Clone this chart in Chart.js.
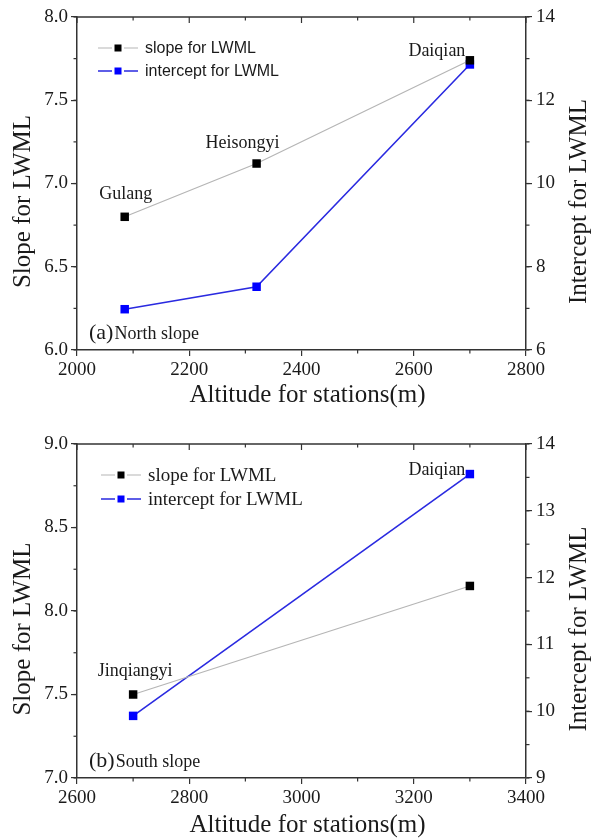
<!DOCTYPE html>
<html>
<head>
<meta charset="utf-8">
<script src="https://cdn.jsdelivr.net/npm/chart.js@4.4.0/dist/chart.umd.min.js"></script>
<style>
  html, body { margin: 0; padding: 0; background: #fff; }
  .panel { position: relative; width: 597px; height: 419px; }
</style>
</head>
<body>
<div class="panel"><canvas id="northChart" width="597" height="419"></canvas></div>
<div class="panel"><canvas id="southChart" width="597" height="419"></canvas></div>
<script>
// (a) North slope
const northAltitude = [2085, 2320, 2700];
const northSlope = [6.80, 7.12, 7.74];
const northIntercept = [6.98, 7.52, 12.86];
const northStations = ['Gulang', 'Heisongyi', 'Daiqian'];

// (b) South slope
const southAltitude = [2700, 3300];
const southSlope = [7.50, 8.15];
const southIntercept = [9.93, 13.55];
const southStations = ['Jinqiangyi', 'Daiqian'];

const seriesNames = ['slope for LWML', 'intercept for LWML'];

const SERIF = '"Liberation Serif", "Times New Roman", serif';
const SANS = '"Liberation Sans", Arial, sans-serif';
const INK = '#1a1a1a';
const AXIS = '#333';

function toPoints(xs, ys) {
    return xs.map((x, i) => ({ x: x, y: ys[i] }));
}

// extras drawn on top: frame, minor ticks, titles, legend, station labels
const extrasPlugin = {
    id: 'extras',
    afterDraw(chart, args, opts) {
        const ctx = chart.ctx;
        const a = chart.chartArea;
        const sx = chart.scales.x, sy = chart.scales.y, sy2 = chart.scales.y2;
        ctx.save();
        ctx.strokeStyle = AXIS;
        ctx.lineWidth = 1.5;
        // top frame line
        ctx.beginPath();
        ctx.moveTo(a.left, a.top);
        ctx.lineTo(a.right, a.top);
        ctx.stroke();

        ctx.lineWidth = 1.2;
        // x: minor outward ticks + top mirror ticks
        for (let v = sx.min; v <= sx.max + 1e-9; v += opts.xMinor) {
            const px = sx.getPixelForValue(v);
            const major = Math.abs(((v - sx.min) / opts.xMajor) - Math.round((v - sx.min) / opts.xMajor)) < 1e-6;
            ctx.beginPath();
            if (!major) {
                ctx.moveTo(px, a.bottom);
                ctx.lineTo(px, a.bottom + 3.5);
            }
            ctx.moveTo(px, a.top);
            ctx.lineTo(px, a.top + (major ? 6 : 3.5));
            ctx.stroke();
        }
        // left y minor ticks
        for (let v = sy.min; v <= sy.max + 1e-9; v += opts.yMinor) {
            const py = sy.getPixelForValue(v);
            ctx.beginPath();
            ctx.moveTo(a.left, py);
            ctx.lineTo(a.left - 3.5, py);
            ctx.stroke();
        }
        // right y minor ticks
        for (let v = sy2.min; v <= sy2.max + 1e-9; v += opts.y2Minor) {
            const py = sy2.getPixelForValue(v);
            ctx.beginPath();
            ctx.moveTo(a.right, py);
            ctx.lineTo(a.right + 3.5, py);
            ctx.stroke();
        }

        // axis titles
        ctx.fillStyle = INK;
        ctx.textAlign = 'center';
        ctx.textBaseline = 'middle';
        ctx.font = '25px ' + SERIF;
        ctx.fillText('Altitude for stations(m)', (a.left + a.right) / 2 + 6, a.bottom + opts.xTitleGap);
        ctx.font = '25px ' + SERIF;
        ctx.save();
        ctx.translate(23, (a.top + a.bottom) / 2 + 18);
        ctx.rotate(-Math.PI / 2);
        ctx.fillText('Slope for LWML', 0, 0);
        ctx.restore();
        ctx.save();
        ctx.translate(579, (a.top + a.bottom) / 2 + 18);
        ctx.rotate(-Math.PI / 2);
        ctx.fillText('Intercept for LWML', 0, 0);
        ctx.restore();

        // legend
        const lg = opts.legend;
        chart.data.datasets.forEach((ds, i) => {
            const y = a.top + lg.top + i * lg.gap;
            ctx.strokeStyle = ds.borderColor;
            ctx.lineWidth = ds.borderWidth;
            ctx.beginPath();
            ctx.moveTo(lg.left, y);
            ctx.lineTo(lg.left + 14, y);
            ctx.moveTo(lg.left + 26, y);
            ctx.lineTo(lg.left + 40, y);
            ctx.stroke();
            ctx.fillStyle = ds.pointBackgroundColor;
            ctx.fillRect(lg.left + 16.5, y - 3.5, 7, 7);
            ctx.fillStyle = INK;
            ctx.textAlign = 'left';
            ctx.font = lg.font;
            ctx.fillText(ds.label, lg.left + 47, y + 1);
        });

        // station labels
        ctx.font = '18px ' + SERIF;
        ctx.textAlign = 'center';
        opts.stations.forEach(s => {
            const el = chart.getDatasetMeta(s.ds).data[s.index];
            ctx.fillText(s.text, el.x + s.dx, el.y + s.dy);
        });

        // panel note
        ctx.textAlign = 'left';
        ctx.font = '22px ' + SERIF;
        ctx.fillText(opts.note[0], a.left + 12, a.bottom - 17);
        const w = ctx.measureText(opts.note[0]).width;
        ctx.font = '18px ' + SERIF;
        ctx.fillText(opts.note[1], a.left + 13 + w, a.bottom - 16);
        ctx.restore();
    }
};

function makeChart(id, cfg) {
    const ctx = document.getElementById(id).getContext('2d');
    const tickFont = { family: SERIF, size: 19 };
    return new Chart(ctx, {
        type: 'scatter',
        data: {
            datasets: [{
                label: seriesNames[0],
                data: toPoints(cfg.altitude, cfg.slope),
                yAxisID: 'y',
                showLine: true,
                borderColor: '#b5b5b5',
                borderWidth: 1.2,
                pointStyle: 'rect',
                pointRadius: 6,
                pointBackgroundColor: '#000',
                pointBorderColor: '#000',
                pointBorderWidth: 0
            }, {
                label: seriesNames[1],
                data: toPoints(cfg.altitude, cfg.intercept),
                yAxisID: 'y2',
                showLine: true,
                borderColor: '#2a2ae0',
                borderWidth: 1.6,
                pointStyle: 'rect',
                pointRadius: 6,
                pointBackgroundColor: '#0000ff',
                pointBorderColor: '#0000ff',
                pointBorderWidth: 0
            }]
        },
        options: {
            responsive: false,
            animation: false,
            clip: false,
            layout: { padding: { top: cfg.top, left: 0, right: 0, bottom: 0 } },
            scales: {
                x: {
                    type: 'linear',
                    min: cfg.xMin, max: cfg.xMax,
                    grid: { drawOnChartArea: false, tickLength: 6, color: AXIS, lineWidth: 1.2 },
                    border: { color: AXIS, width: 1.5 },
                    ticks: { stepSize: 200, font: tickFont, color: INK, padding: 3, maxRotation: 0,
                        callback: v => String(v) },
                    afterFit(s) { s.height = cfg.xHeight; }
                },
                y: {
                    position: 'left',
                    min: cfg.yMin, max: cfg.yMax,
                    grid: { drawOnChartArea: false, tickLength: 6, color: AXIS, lineWidth: 1.2 },
                    border: { color: AXIS, width: 1.5 },
                    ticks: { stepSize: 0.5, font: tickFont, color: INK, padding: 3,
                        callback: v => v.toFixed(1) },
                    afterFit(s) { s.width = 77; }
                },
                y2: {
                    position: 'right',
                    min: cfg.y2Min, max: cfg.y2Max,
                    grid: { drawOnChartArea: false, tickLength: 6, color: AXIS, lineWidth: 1.2 },
                    border: { color: AXIS, width: 1.5 },
                    ticks: { stepSize: cfg.y2Step, font: tickFont, color: INK, padding: 4 },
                    afterFit(s) { s.width = 71; }
                }
            },
            plugins: {
                legend: { display: false },
                tooltip: { enabled: false },
                extras: cfg.extras
            }
        },
        plugins: [extrasPlugin]
    });
}

document.addEventListener('DOMContentLoaded', function () {
    makeChart('northChart', {
        altitude: northAltitude, slope: northSlope, intercept: northIntercept,
        xMin: 2000, xMax: 2800, yMin: 6, yMax: 8, y2Min: 6, y2Max: 14, y2Step: 2,
        top: 17, xHeight: 69,
        extras: {
            xMajor: 200, xMinor: 100, yMinor: 0.25, y2Minor: 1, xTitleGap: 45,
            legend: { left: 98, top: 31, gap: 23, font: '16px ' + SANS },
            stations: [
                { text: northStations[0], ds: 0, index: 0, dx: 1, dy: -23 },
                { text: northStations[1], ds: 0, index: 1, dx: -14, dy: -20 },
                { text: northStations[2], ds: 0, index: 2, dx: -33, dy: -9 }
            ],
            note: ['(a)', 'North slope']
        }
    });
    makeChart('southChart', {
        altitude: southAltitude, slope: southSlope, intercept: southIntercept,
        xMin: 2600, xMax: 3400, yMin: 7, yMax: 9, y2Min: 9, y2Max: 14, y2Step: 1,
        top: 25, xHeight: 60,
        extras: {
            xMajor: 200, xMinor: 100, yMinor: 0.25, y2Minor: 0.5, xTitleGap: 47,
            legend: { left: 101, top: 31, gap: 24, font: '19px ' + SERIF },
            stations: [
                { text: southStations[0], ds: 0, index: 0, dx: 2, dy: -23 },
                { text: southStations[1], ds: 1, index: 1, dx: -33, dy: -4 }
            ],
            note: ['(b)', 'South slope']
        }
    });
});
</script>
</body>
</html>
